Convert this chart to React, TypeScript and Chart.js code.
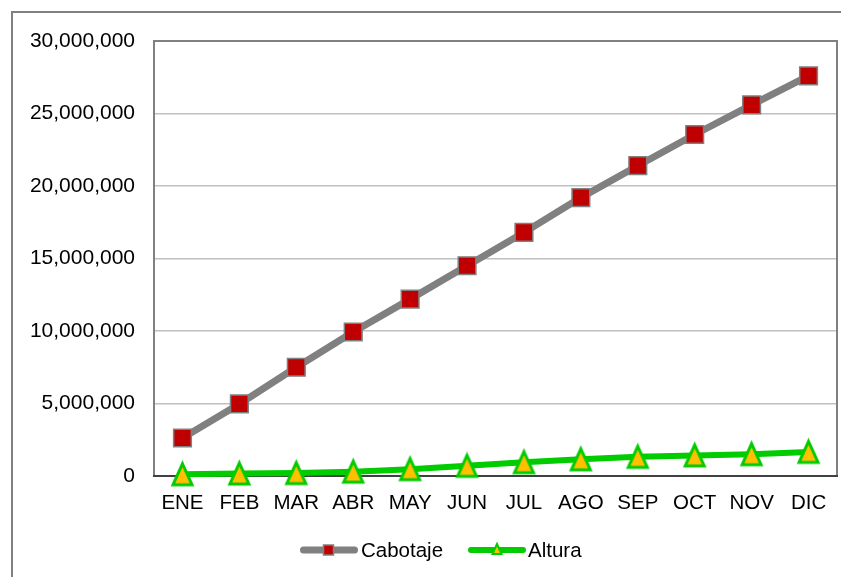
import React, { useEffect, useRef } from 'react';
import { Chart, registerables } from 'chart.js';

Chart.register(...registerables);

const months = ['ENE', 'FEB', 'MAR', 'ABR', 'MAY', 'JUN', 'JUL', 'AGO', 'SEP', 'OCT', 'NOV', 'DIC'];
const cabotaje = [2620000, 4970000, 7500000, 9930000, 12200000, 14500000, 16800000, 19200000, 21400000, 23550000, 25600000, 27600000];
const altura = [120000, 170000, 200000, 300000, 470000, 700000, 950000, 1150000, 1320000, 1420000, 1500000, 1660000];
const seriesNames = ['Cabotaje', 'Altura'];
const yMin = 0;
const yMax = 30000000;
const yStep = 5000000;

const FONT = "Arial, 'Liberation Sans', sans-serif";
const GRAY = '#808080';
const RED = '#C00000';
const GREEN = '#00CC00';
const ORANGE = '#FFC000';

function makeTriangle(w: number, h: number, lw: number): HTMLCanvasElement {
  const c = document.createElement('canvas');
  const pad = lw + 1;
  c.width = w + pad * 2;
  c.height = h + pad * 2;
  const ctx = c.getContext('2d')!;
  drawTri(ctx, c.width / 2, c.height / 2, w, h, lw);
  return c;
}

function drawTri(ctx: CanvasRenderingContext2D, cx: number, cy: number, w: number, h: number, lw: number) {
  ctx.save();
  ctx.beginPath();
  ctx.moveTo(cx, cy - h / 2);
  ctx.lineTo(cx + w / 2, cy + h / 2);
  ctx.lineTo(cx - w / 2, cy + h / 2);
  ctx.closePath();
  ctx.fillStyle = ORANGE;
  ctx.fill();
  ctx.lineWidth = lw;
  ctx.lineJoin = 'miter';
  ctx.strokeStyle = GREEN;
  ctx.stroke();
  ctx.restore();
}

const framePlugin = {
  id: 'frame',
  beforeDatasetsDraw(chart: any) {
    const { ctx, chartArea: a } = chart;
    ctx.save();
    ctx.strokeStyle = GRAY;
    ctx.lineWidth = 2;
    ctx.beginPath();
    ctx.moveTo(a.left, a.bottom);
    ctx.lineTo(a.left, a.top);
    ctx.lineTo(a.right, a.top);
    ctx.lineTo(a.right, a.bottom);
    ctx.stroke();
    ctx.strokeStyle = '#404040';
    ctx.beginPath();
    ctx.moveTo(a.left - 1, a.bottom);
    ctx.lineTo(a.right + 1, a.bottom);
    ctx.stroke();
    ctx.restore();
  },
  afterDraw(chart: any) {
    const { ctx } = chart;
    ctx.save();
    // outer border (left & top visible)
    ctx.strokeStyle = GRAY;
    ctx.lineWidth = 2;
    ctx.beginPath();
    ctx.moveTo(4, chart.height + 10);
    ctx.lineTo(4, 4);
    ctx.lineTo(chart.width + 10, 4);
    ctx.stroke();

    // legend
    const ly = 542;
    ctx.lineCap = 'round';
    ctx.lineWidth = 7;
    ctx.strokeStyle = GRAY;
    ctx.beginPath();
    ctx.moveTo(295.5, ly);
    ctx.lineTo(346.5, ly);
    ctx.stroke();
    ctx.fillStyle = RED;
    ctx.fillRect(315.5, ly - 5, 10, 10);
    ctx.lineWidth = 1.5;
    ctx.strokeStyle = GRAY;
    ctx.strokeRect(315.5, ly - 5, 10, 10);

    ctx.lineWidth = 6;
    ctx.strokeStyle = GREEN;
    ctx.beginPath();
    ctx.moveTo(463, ly);
    ctx.lineTo(515, ly);
    ctx.stroke();
    drawTri(ctx, 489, ly - 1, 9, 10, 2);

    ctx.fillStyle = '#000';
    ctx.font = `20.5px ${FONT}`;
    ctx.textBaseline = 'middle';
    ctx.textAlign = 'left';
    ctx.fillText(seriesNames[0], 353, ly + 1);
    ctx.fillText(seriesNames[1], 520, ly + 1);
    ctx.restore();
  },
};

export default function App() {
  const ref = useRef<HTMLCanvasElement>(null);
  useEffect(() => {
    const tri = makeTriangle(19, 21, 3);
    const chart = new Chart(ref.current!, {
      type: 'line',
      data: {
        labels: months,
        datasets: [
          {
            label: seriesNames[0],
            data: cabotaje,
            borderColor: GRAY,
            borderWidth: 7,
            borderJoinStyle: 'round',
            borderCapStyle: 'round',
            pointStyle: 'rect',
            pointRadius: 12.5,
            pointHoverRadius: 12.5,
            pointBackgroundColor: RED,
            pointBorderColor: GRAY,
            pointBorderWidth: 1.5,
            tension: 0,
            clip: false,
          } as any,
          {
            label: seriesNames[1],
            data: altura,
            borderColor: GREEN,
            borderWidth: 6,
            borderJoinStyle: 'round',
            borderCapStyle: 'round',
            pointStyle: tri,
            pointRadius: 10,
            pointHoverRadius: 10,
            tension: 0,
            clip: false,
          } as any,
        ],
      },
      options: {
        animation: false,
        responsive: false,
        maintainAspectRatio: false,
        events: [],
        layout: { autoPadding: false, padding: { left: 0, top: 33, right: 4, bottom: 0 } },
        plugins: {
          legend: { display: false },
          tooltip: { enabled: false },
        },
        scales: {
          x: {
            offset: true,
            grid: { display: false, drawTicks: false },
            border: { display: false },
            ticks: {
              color: '#000',
              font: { family: FONT, size: 20.5 },
              padding: 15,
              maxRotation: 0,
              autoSkip: false,
            },
            afterFit: (s: any) => {
              s.height = 101;
              s.paddingLeft = 0;
              s.paddingRight = 0;
            },
          },
          y: {
            min: yMin,
            max: yMax,
            grid: { color: '#C0C0C0', lineWidth: 1.5, drawTicks: false },
            border: { display: false },
            ticks: {
              stepSize: yStep,
              color: '#000',
              font: { family: FONT, size: 21 },
              padding: 19,
              callback: (v: any) => Number(v).toLocaleString('en-US'),
            },
            afterFit: (s: any) => {
              s.width = 146;
            },
          },
        },
      },
      plugins: [framePlugin],
    });
    return () => chart.destroy();
  }, []);
  return (
    <canvas ref={ref} width={833} height={569} style={{ display: 'block', width: 833, height: 569 }} />
  );
}
